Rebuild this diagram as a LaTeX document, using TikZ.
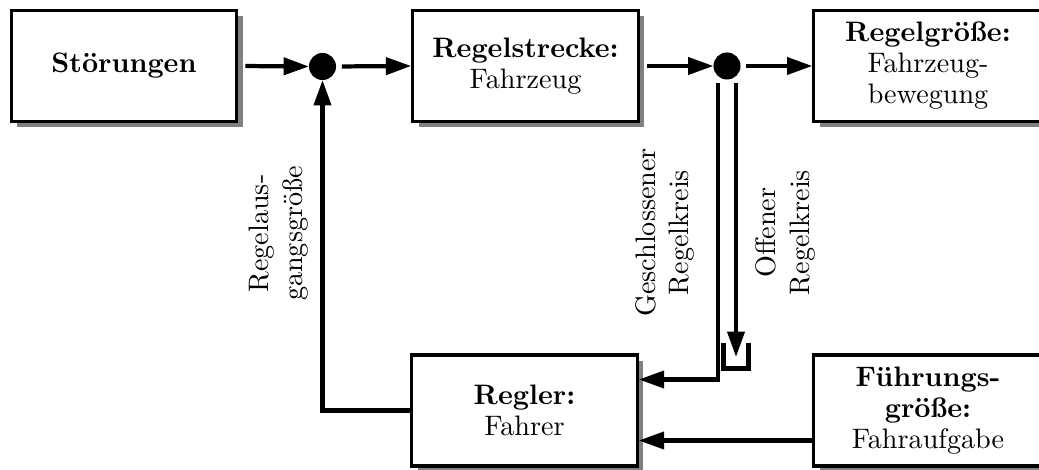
\documentclass[tikz,border=0pt]{standalone}
\usepackage{fontspec}
\usetikzlibrary{arrows.meta,shadows,calc}
\begin{document}
\begin{tikzpicture}[x=0.355pt,y=-0.355pt,
  box/.style={draw, line width=1.1pt, fill=white, minimum width=80pt,
    minimum height=39.4pt, align=center, inner sep=2pt,
    drop shadow={shadow xshift=2.1pt, shadow yshift=-2pt, fill=black!50, opacity=1}},
  junction/.style={circle, fill=black, minimum size=9.6pt, inner sep=0pt, outer sep=0pt},
  wire/.style={line width=1.5pt},
  arr/.style={wire, -{Triangle[length=9pt,width=6pt]}},
  lab/.style={rotate=90, align=center, inner sep=0pt}
]
\useasboundingbox (0,0) rectangle (1039,470);
\clip (0,0) rectangle (1039,470);

% blocks
\node[box] (stoer) at (124,66) {\textbf{Störungen}};
\node[box] (strecke) at (525.5,66) {\textbf{Regelstrecke:}\\[-1pt]Fahrzeug};
\node[box, minimum width=81pt] (groesse) at (928,66) {\textbf{Regelgröße:}\\[-1pt]Fahrzeug-\\[-1pt]bewegung};
\node[box] (regler) at (524.5,410.5) {\textbf{Regler:}\\[-1pt]Fahrer};
\node[box, minimum width=81pt] (fuehr) at (928,410.5) {\textbf{Führungs-}\\[-1pt]\textbf{größe:}\\[-1pt]Fahraufgabe};

% junction points
\node[junction] (d1) at (322.5,66.5) {};
\node[junction] (d2) at (727,66) {};

% open-loop terminal
\coordinate (cup) at (736,357);
\draw[wire] ([shift={(-12.5,-14)}]cup) -- ([shift={(-12.5,11.5)}]cup)
  -- ([shift={(12.5,11.5)}]cup) -- ([shift={(12.5,-14)}]cup);

% forward path
\draw[arr, shorten <=2.5pt] (stoer.east) -- (d1.west);
\draw[arr, shorten <=2.1pt] (d1.east) -- (strecke.west);
\draw[arr, shorten <=2.5pt] (strecke.east) -- (d2.west);
\draw[arr, shorten <=2pt] (d2.east) -- (groesse.west);

% loops
\draw[arr, shorten <=1.4pt] ([xshift=-3.2pt]d2.south) |- ([yshift=11pt]regler.east);
\draw[arr, shorten <=1.4pt] (cup |- d2.south) -- (cup);
\draw[arr] ([yshift=-10.65pt]fuehr.west) -- ([yshift=-10.65pt]regler.east);
\draw[arr] (regler.west) -| (d1.south);

% labels
\node[lab] (lregel) at (279,233.5) {Regelaus-\\gangsgröße};
\node[lab] (lclosed) at (665,232.5) {Geschlossener\\Regelkreis};
\node[lab] (lopen) at (785.5,232.5) {Offener\\Regelkreis};
\end{tikzpicture}
\end{document}
